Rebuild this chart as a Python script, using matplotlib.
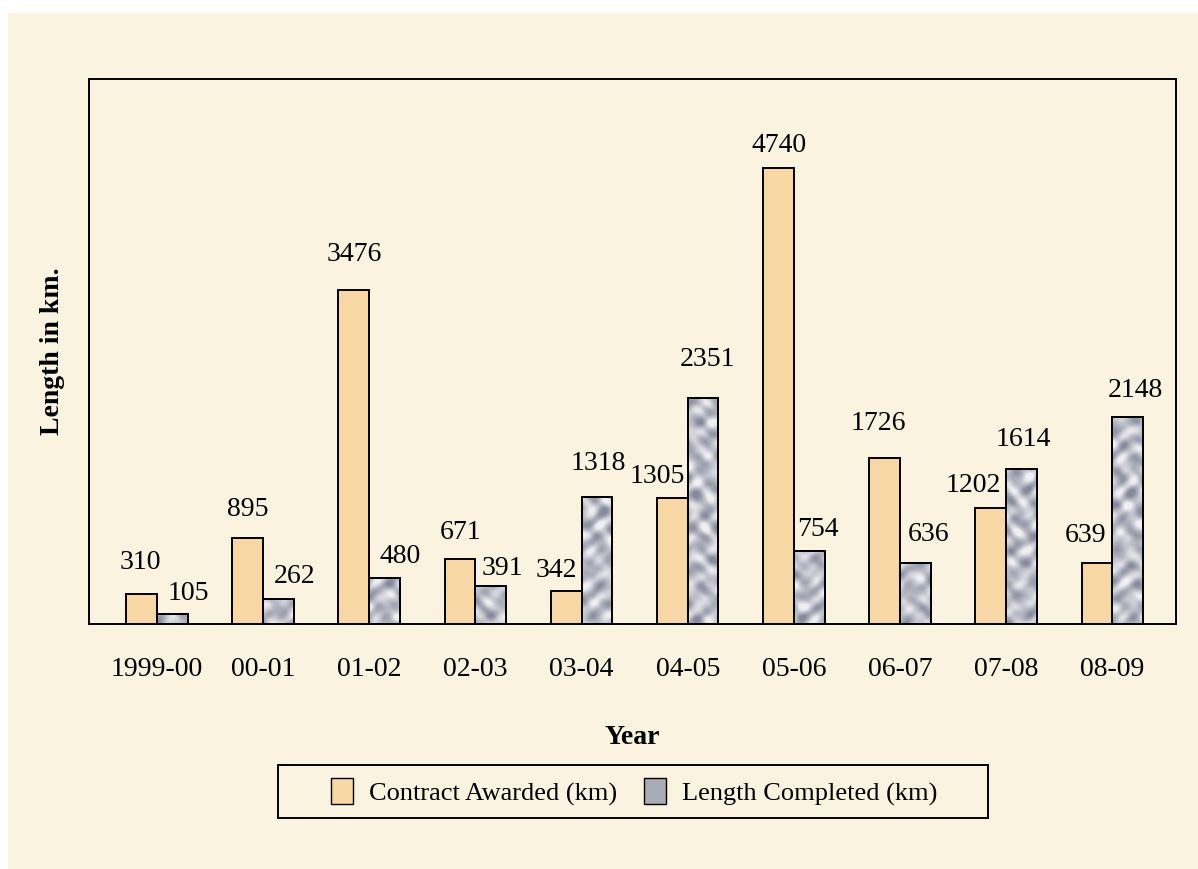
import numpy as np
import matplotlib.pyplot as plt
from matplotlib.patches import Rectangle, Patch
from matplotlib.colors import LinearSegmentedColormap

plt.rcParams['font.family'] = ['Liberation Serif', 'DejaVu Serif']

years = ['1999-00', '00-01', '01-02', '02-03', '03-04',
         '04-05', '05-06', '06-07', '07-08', '08-09']
contract_awarded = [310, 895, 3476, 671, 342, 1305, 4740, 1726, 1202, 639]
length_completed = [105, 262, 480, 391, 1318, 2351, 754, 636, 1614, 2148]

# label nudges in pixels (dx, dy from the top centre of each bar)
award_off = [(-1, 32), (0, 28), (0, 35), (1, 27), (-10, 21), (-15, 22),
             (1, 22), (-6, 34), (-17, 23), (-11, 27)]
done_off = [(16, 20), (16, 22), (15, 21), (12, 18), (1, 34), (4, 38),
            (9, 22), (13, 28), (2, 29), (8, 27)]

bg = '#f9f3df'
orange = '#f7d8a5'
fs = 20

fig = plt.figure(figsize=(11.98, 8.69), dpi=100, facecolor='white')
fig.patches.append(Rectangle((8 / 1198, 0), 1, 1 - 13 / 869, transform=fig.transFigure,
                             facecolor=bg, edgecolor='none', zorder=-10))

ax = fig.add_axes([89 / 1198, 1 - 624 / 869, 1087 / 1198, 545 / 869])
ax.set_facecolor(bg)

xmin, xmax, ymax = -0.64, 9.6, 5665
x = np.arange(len(years))
w = 0.29
bars_a = ax.bar(x - w / 2, contract_awarded, w, color=orange, edgecolor='black',
                linewidth=1.4, zorder=3)
bars_b = ax.bar(x + w / 2, length_completed, w, color='#b4b6bf', edgecolor='black',
                linewidth=1.4, zorder=3)

# cloudy grey fill for the completed-length bars, laid out at screen scale
px, py = np.meshgrid(np.arange(1087), np.arange(545))
tex = (np.sin(px / 4.1 + py / 6.3) + np.sin(px / 5.7 - py / 3.9) +
       0.8 * np.sin(py / 2.9 + np.sin(px / 7.0) * 2.5) +
       0.7 * np.cos(px / 3.3 + np.cos(py / 5.1) * 2.0))
mottle = LinearSegmentedColormap.from_list('mottle', ['#858999', '#b8bac5', '#f0f0f3'])
for b in bars_b:
    im = ax.imshow(tex, extent=(xmin, xmax, ymax, 0), cmap=mottle, vmin=-2.8, vmax=2.4,
                   aspect='auto', interpolation='bilinear', zorder=3.5)
    im.set_clip_path(b)
    ax.add_patch(Rectangle((b.get_x(), 0), b.get_width(), b.get_height(), fill=False,
                           edgecolor='black', linewidth=1.4, zorder=4))

for b, v, off in zip(bars_a, contract_awarded, award_off):
    ax.annotate(str(v), (b.get_x() + b.get_width() / 2, v), xytext=off,
                textcoords='offset pixels', ha='center', va='center', fontsize=fs)
for b, v, off in zip(bars_b, length_completed, done_off):
    ax.annotate(str(v), (b.get_x() + b.get_width() / 2, v), xytext=off,
                textcoords='offset pixels', ha='center', va='center', fontsize=fs)

ax.set_xlim(xmin, xmax)
ax.set_ylim(0, ymax)
ax.set_xticks(x)
ax.set_xticklabels(years, fontsize=fs)
ax.tick_params(axis='x', length=0, pad=24)
ax.set_yticks([])
for s in ax.spines.values():
    s.set_linewidth(1.4)

ax.set_xlabel('Year', fontsize=fs, fontweight='bold', labelpad=31)
ax.set_ylabel('Length in km.', fontsize=fs, fontweight='bold', labelpad=17)

# legend box drawn separately so it can carry wide side margins
fig.patches.append(Rectangle((278 / 1198, 1 - 818 / 869), 710 / 1198, 53 / 869,
                             transform=fig.transFigure, facecolor=bg,
                             edgecolor='black', linewidth=1.4, zorder=1))
handles = [Patch(facecolor=orange, edgecolor='black'),
           Patch(facecolor='#a9abb5', edgecolor='black')]
fig.legend(handles, ['Contract Awarded (km)', 'Length Completed (km)'],
           loc='center', bbox_to_anchor=(634 / 1198, 1 - 792 / 869), ncol=2,
           fontsize=19, frameon=False, handlelength=0.85, handleheight=1.15,
           handletextpad=0.6, columnspacing=1.0, borderaxespad=0, borderpad=0)

fig.savefig('out.png', dpi=100, facecolor=fig.get_facecolor())
